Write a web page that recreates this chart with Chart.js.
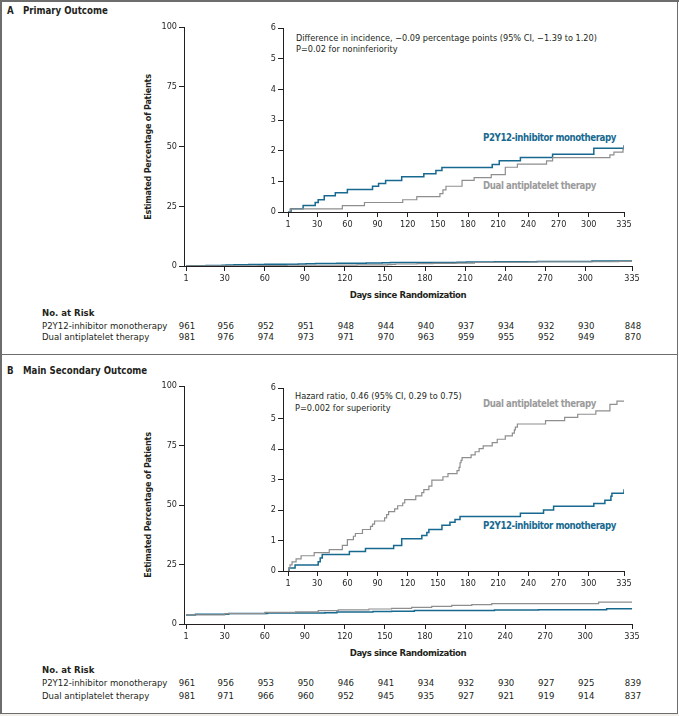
<!DOCTYPE html>
<html><head><meta charset="utf-8">
<script src="https://cdn.jsdelivr.net/npm/chart.js@4.4.1/dist/chart.umd.min.js"></script>
<style>
html,body{margin:0;padding:0;background:#fff;}
#fig{position:relative;width:679px;height:716px;overflow:hidden;font-family:"Liberation Sans Narrow","DejaVu Sans Condensed",Lato,sans-serif;color:#231f20;}
.t{position:absolute;white-space:nowrap;line-height:12px;font-size:9.5px;}
.b{font-weight:bold;}
.c{transform:translateX(-50%);}
.wrap{position:absolute;}
.ln{position:absolute;background:#6d6d6d;}
.blue{color:#17698f;}
.gray{color:#9b9b9b;}
.lab{font-size:9.6px;letter-spacing:-0.4px;}
.ann{font-size:9.1px;}
.ttl{font-size:9.6px;}
.ax{font-size:9.5px;letter-spacing:-0.4px;}
</style></head><body><div id="fig">
<div class="ln" style="left:0;top:0;width:679px;height:1.5px"></div>
<div class="ln" style="left:0;top:0;width:1.5px;height:714px"></div>
<div class="ln" style="left:676.5px;top:0;width:1.5px;height:714px"></div>
<div class="ln" style="left:0;top:353.5px;width:678px;height:1.5px"></div>
<div class="ln" style="left:0;top:712.5px;width:678px;height:1.5px"></div>
<div style="position:absolute;left:0;top:714px;width:679px;height:2px;background:#f2eee8"></div>

<div class="t b ttl" style="left:7px;top:5px">A</div>
<div class="t b ttl" style="left:23px;top:5px">Primary Outcome</div>
<div class="t b ttl" style="left:7px;top:365px">B</div>
<div class="t b ttl" style="left:23px;top:365px">Main Secondary Outcome</div>

<div class="t b" style="left:148px;top:147px;transform:translate(-50%,-50%) rotate(-90deg);font-size:9px;letter-spacing:-0.25px">Estimated Percentage of Patients</div>
<div class="t b" style="left:148px;top:505px;transform:translate(-50%,-50%) rotate(-90deg);font-size:9px;letter-spacing:-0.25px">Estimated Percentage of Patients</div>
<div class="t b c ax" style="left:408px;top:289px">Days since Randomization</div>
<div class="t b c ax" style="left:408px;top:647px">Days since Randomization</div>

<div class="t ann" style="left:296px;top:32px">Difference in incidence, −0.09 percentage points (95% CI, −1.39 to 1.20)</div>
<div class="t ann" style="left:296px;top:43px">P=0.02 for noninferiority</div>
<div class="t b blue lab" style="left:483px;top:132px">P2Y12-inhibitor monotherapy</div>
<div class="t b gray lab" style="left:483px;top:180px">Dual antiplatelet therapy</div>

<div class="t ann" style="left:295px;top:390px">Hazard ratio, 0.46 (95% CI, 0.29 to 0.75)</div>
<div class="t ann" style="left:295px;top:402px">P=0.002 for superiority</div>
<div class="t b gray lab" style="left:483px;top:398px">Dual antiplatelet therapy</div>
<div class="t b blue lab" style="left:483px;top:520px">P2Y12-inhibitor monotherapy</div>

<div class="t b" style="left:42px;top:307px;font-size:9.5px">No. at Risk</div>
<div class="t" style="left:42px;top:320px">P2Y12-inhibitor monotherapy</div>
<div class="t" style="left:42px;top:331px">Dual antiplatelet therapy</div>
<div class="t b" style="left:42px;top:664px;font-size:9.5px">No. at Risk</div>
<div class="t" style="left:42px;top:677px">P2Y12-inhibitor monotherapy</div>
<div class="t" style="left:42px;top:690px">Dual antiplatelet therapy</div>
</div>
<script>
// ---------- data ----------
const mainXTicks = [1, 30, 60, 90, 120, 150, 180, 210, 240, 270, 300, 335];
const mainYTicks = [0, 25, 50, 75, 100];
const insetYTicks = [0, 1, 2, 3, 4, 5, 6];
const riskDays = [1, 30, 60, 90, 120, 150, 180, 210, 240, 270, 300, 335];

// Panel A (primary outcome), cumulative incidence %
const aMonoDays = [1, 4, 16, 28, 31, 37, 48, 60, 85, 91, 98, 114, 136, 148, 154, 204, 211, 232, 264, 305, 335];
const aMonoPct  = [0, 0.11, 0.21, 0.31, 0.40, 0.53, 0.63, 0.73, 0.84, 0.93, 1.03, 1.15, 1.25, 1.35, 1.45, 1.55, 1.67, 1.78, 1.88, 2.08, 2.18];
const aDaptDays = [1, 3, 55, 77, 115, 129, 152, 155, 158, 174, 186, 203, 217, 229, 258, 264, 321, 325, 334, 335];
const aDaptPct  = [0, 0.10, 0.21, 0.31, 0.40, 0.50, 0.60, 0.72, 0.84, 1.03, 1.12, 1.22, 1.46, 1.56, 1.67, 1.77, 1.86, 1.95, 2.05, 2.15];

// Panel B inset (main secondary outcome)
const bMonoDays = [1, 2, 8, 31, 33, 35, 62, 78, 106, 114, 134, 139, 141, 154, 162, 167, 172, 232, 255, 265, 305, 316, 322, 323, 335];
const bMonoPct  = [0, 0.10, 0.20, 0.30, 0.43, 0.54, 0.64, 0.74, 0.84, 1.06, 1.16, 1.26, 1.36, 1.50, 1.60, 1.69, 1.79, 1.89, 2.00, 2.12, 2.21, 2.32, 2.45, 2.55, 2.68];
const bDaptDays = [1, 2, 3, 5, 9, 14, 27, 42, 55, 60, 66, 68, 75, 83, 85, 87, 97, 99, 101, 107, 110, 115, 117, 128, 134, 136, 141, 144, 155, 160, 169, 171, 172, 173, 174, 183, 187, 191, 195, 204, 209, 217, 224, 226, 227, 229, 257, 276, 289, 307, 321, 328, 335];
const bDaptPct  = [0, 0.10, 0.20, 0.30, 0.40, 0.50, 0.60, 0.70, 0.84, 1.03, 1.14, 1.23, 1.36, 1.46, 1.54, 1.64, 1.74, 1.85, 1.95, 2.04, 2.14, 2.23, 2.34, 2.46, 2.57, 2.67, 2.78, 2.98, 3.09, 3.19, 3.29, 3.40, 3.55, 3.63, 3.72, 3.81, 3.91, 4.01, 4.10, 4.21, 4.32, 4.43, 4.52, 4.63, 4.72, 4.82, 4.93, 5.04, 5.14, 5.25, 5.46, 5.57, 5.57];

// Panel B main plot (as drawn on the 0-100 scale)
const bMainMonoDays = [1, 8, 33, 62, 105, 114, 141, 155, 172, 232, 265, 316, 335];
const bMainMonoPct  = [3.8, 4.1, 4.4, 4.6, 4.7, 5.0, 5.2, 5.4, 5.7, 5.9, 6.0, 6.4, 6.5];
const bMainDaptDays = [1, 30, 60, 83, 100, 115, 138, 155, 170, 185, 200, 215, 230, 310, 335];
const bMainDaptPct  = [3.8, 4.4, 4.9, 5.1, 5.6, 5.9, 6.3, 6.6, 7.0, 7.4, 7.8, 8.1, 8.6, 9.2, 9.3];

// Numbers at risk
const aRiskMono = [961, 956, 952, 951, 948, 944, 940, 937, 934, 932, 930, 848];
const aRiskDapt = [981, 976, 974, 973, 971, 970, 963, 959, 955, 952, 949, 870];
const bRiskMono = [961, 956, 953, 950, 946, 941, 934, 932, 930, 927, 925, 839];
const bRiskDapt = [981, 971, 966, 960, 952, 945, 935, 927, 921, 919, 914, 837];

// ---------- drawing ----------
const BLUE = '#17698f', GRAY = '#8e8e8e', INK = '#231f20';
const FONT = '"Liberation Sans Narrow","DejaVu Sans Condensed",Lato,sans-serif';
const fig = document.getElementById('fig');
const pts = (d, v) => d.map((x, i) => ({x: x, y: v[i]}));

function makeChart(box, opt) {
  const w = document.createElement('div');
  w.className = 'wrap';
  w.style.left = box.left + 'px'; w.style.top = box.top + 'px';
  w.style.width = box.width + 'px'; w.style.height = box.height + 'px';
  const cv = document.createElement('canvas');
  cv.width = box.width; cv.height = box.height;
  cv.style.width = box.width + 'px'; cv.style.height = box.height + 'px';
  w.appendChild(cv); fig.appendChild(w);
  const axis = (ticks, fitKey, fitVal) => ({
    type: 'linear',
    afterBuildTicks: s => { s.ticks = ticks.map(v => ({value: v})); },
    afterFit: s => { s[fitKey] = fitVal; },
    grid: {drawOnChartArea: false, drawTicks: true, tickLength: 5, color: INK, lineWidth: 1},
    border: {display: true, color: INK, width: 1},
    ticks: {autoSkip: false, maxRotation: 0, color: INK, padding: 2, font: {family: FONT, size: 9}}
  });
  const xs = axis(mainXTicks, 'height', opt.xh); xs.min = opt.xmin; xs.max = 335;
  const ys = axis(opt.yticks, 'width', opt.yw); ys.min = 0; ys.max = opt.ymax;
  return new Chart(cv, {
    type: 'line',
    data: {datasets: opt.sets.map(s => ({
      data: s.data, borderColor: s.color, borderWidth: s.w, pointRadius: 0,
      stepped: 'before', fill: false, tension: 0
    }))},
    options: {
      responsive: false, animation: false, devicePixelRatio: window.devicePixelRatio || 1,
      layout: {padding: {top: 8, right: 12, left: 0, bottom: 0}},
      plugins: {legend: {display: false}, tooltip: {enabled: false}},
      scales: {x: xs, y: ys}
    }
  });
}

function riskRows(chart, box, rows) {
  rows.forEach(r => {
    r.vals.forEach((v, i) => {
      const d = document.createElement('div');
      d.className = 't c';
      d.textContent = v;
      d.style.left = (box.left + chart.scales.x.getPixelForValue(riskDays[i]) + 1) + 'px';
      d.style.top = r.top + 'px';
      fig.appendChild(d);
    });
  });
}

// Panel A main
const boxAm = {left: 154, top: 19, width: 490, height: 269};
const chAm = makeChart(boxAm, {xmin: -0.5, ymax: 100, yticks: mainYTicks, yw: 30, xh: 22, sets: [
  {data: pts(aDaptDays, aDaptPct), color: GRAY, w: 1.2},
  {data: pts(aMonoDays, aMonoPct), color: BLUE, w: 1.5}]});
// Panel A inset
const boxAi = {left: 263, top: 20, width: 373, height: 212};
makeChart(boxAi, {xmin: -4, ymax: 6, yticks: insetYTicks, yw: 20, xh: 20, sets: [
  {data: pts(aDaptDays, aDaptPct), color: GRAY, w: 1.2},
  {data: pts(aMonoDays, aMonoPct), color: BLUE, w: 1.5}]});
riskRows(chAm, boxAm, [{vals: aRiskMono, top: 320}, {vals: aRiskDapt, top: 331}]);

// Panel B main
const boxBm = {left: 154, top: 378, width: 490, height: 268};
const chBm = makeChart(boxBm, {xmin: -0.5, ymax: 100, yticks: mainYTicks, yw: 30, xh: 22, sets: [
  {data: pts(bMainDaptDays, bMainDaptPct), color: GRAY, w: 1.2},
  {data: pts(bMainMonoDays, bMainMonoPct), color: BLUE, w: 1.5}]});
// Panel B inset
const boxBi = {left: 263, top: 380, width: 373, height: 211};
makeChart(boxBi, {xmin: -4, ymax: 6, yticks: insetYTicks, yw: 20, xh: 20, sets: [
  {data: pts(bDaptDays, bDaptPct), color: GRAY, w: 1.2},
  {data: pts(bMonoDays, bMonoPct), color: BLUE, w: 1.5}]});
riskRows(chBm, boxBm, [{vals: bRiskMono, top: 677}, {vals: bRiskDapt, top: 690}]);
</script>
</body></html>
